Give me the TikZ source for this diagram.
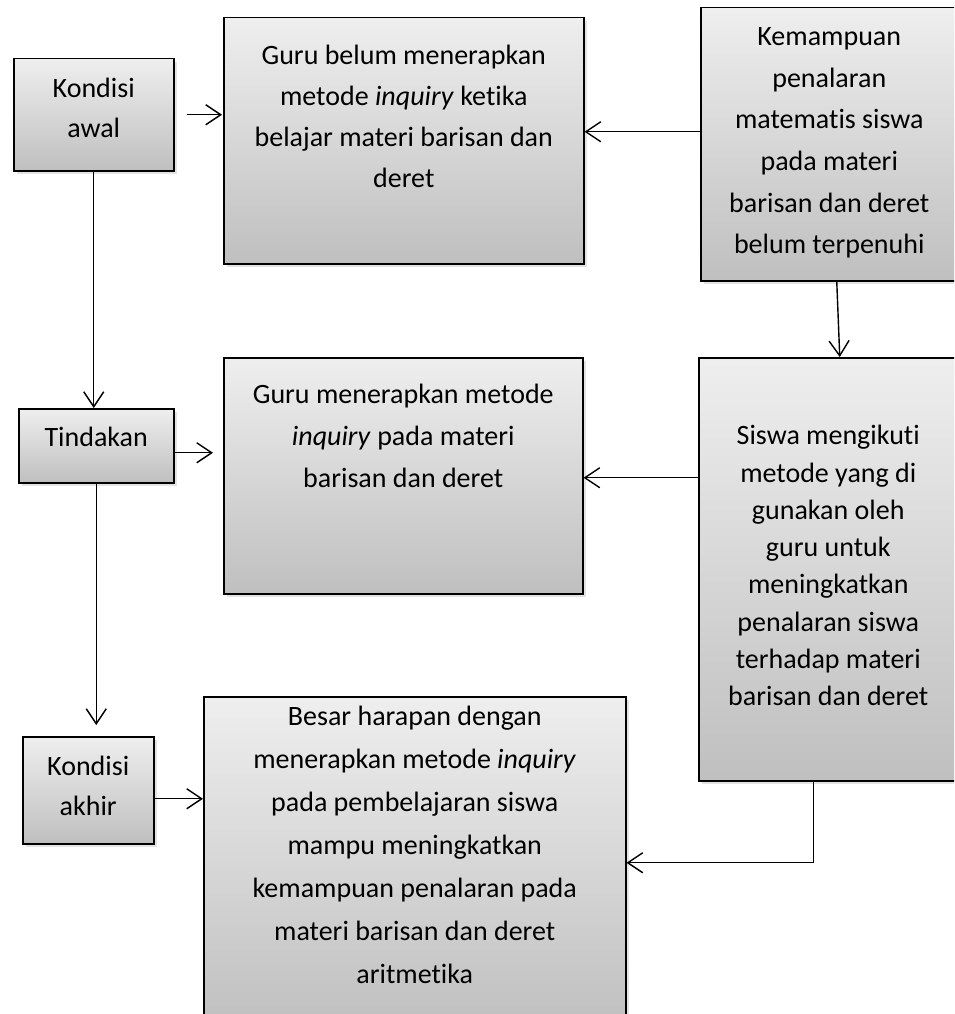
\documentclass[tikz,border=0pt]{standalone}
\usepackage{fontspec}
\setmainfont{Carlito}[Ligatures=NoCommon]
\usetikzlibrary{arrows.meta,shadows}

% isi kotak: lebar, tinggi, jarak ke baris pertama, teks, jarak baris
\newcommand{\isikotak}[5]{\parbox[c][#2pt][t]{#1pt}{\centering\fontsize{28}{#5}\selectfont
  \vspace*{\dimexpr#3pt-28pt\relax}\rule{0pt}{28pt}#4}}

\tikzset{
  kotak/.style={draw, line width=1.5pt, inner sep=0pt, anchor=north west,
    top color=gray!13, bottom color=gray!50,
    drop shadow={shadow xshift=3pt, shadow yshift=-3pt, opacity=0.22}},
  panah/.style={line width=1.4pt, -{Straight Barb[length=15pt,width=20pt,line width=1.4pt]}}
}

\begin{document}
\begin{tikzpicture}[x=1pt,y=-1pt]
        \clip (0,0) rectangle (954,1014);
        \node[kotak] (kawal) at (13,58) {\isikotak{160}{112}{39}{Kondisi\\awal}{40}};
        \node[kotak] (guruA) at (223,17) {\isikotak{360}{246}{47}{Guru belum menerapkan\\metode \textit{inquiry} ketika\\belajar materi barisan dan\\deret}{41}};
        \node[kotak] (kemampuan) at (700,7) {\isikotak{257}{273}{38}{Kemampuan\\penalaran\\matematis siswa\\pada materi\\barisan dan deret\\belum terpenuhi}{41.6}};
        \node[kotak] (tindakan) at (18,408) {\isikotak{155}{74}{38}{Tindakan}{40}};
        \node[kotak] (guruC) at (223,357) {\isikotak{359}{236}{46}{Guru menerapkan metode\\\textit{inquiry} pada materi\\barisan dan deret}{42}};
        \node[kotak] (siswa) at (698,357) {\isikotak{259}{423}{87}{Siswa mengikuti\\metode yang di\\gunakan oleh\\guru untuk\\meningkatkan\\penalaran siswa\\terhadap materi\\barisan dan deret}{37.3}};
        \node[kotak] (kakhir) at (22,736) {\isikotak{131}{107}{39}{Kondisi\\akhir}{40}};
        \node[kotak] (besar) at (203,696) {\isikotak{422}{332}{29}{Besar harapan dengan\\menerapkan metode \textit{inquiry}\\pada pembelajaran siswa\\mampu meningkatkan\\kemampuan penalaran pada\\materi barisan dan deret\\aritmetika}{43}};

        \draw[panah, shorten <=12pt, shorten >=1pt] (kawal.east) -- (kawal.east -| guruA.west);
        \draw[panah] ([yshift=12.5pt]kemampuan.west) -- ([yshift=12.5pt]kemampuan.west -| guruA.east);
        \draw[panah] (kawal.south) -- (kawal.south |- tindakan.north);
        \draw[panah] ([xshift=7.5pt]kemampuan.south) -- ([xshift=11.5pt]siswa.north);
        \draw[panah, shorten >=10pt] ([yshift=-7pt]tindakan.east) -- ([yshift=-7pt]tindakan.east -| guruC.west);
        \draw[panah] ([yshift=91.5pt]siswa.west) -- ([yshift=91.5pt]siswa.west -| guruC.east);
        \draw[panah, shorten >=11pt] (tindakan.south) -- (tindakan.south |- kakhir.north);
        \draw[panah] ([yshift=-8.5pt]kakhir.east) -- ([yshift=-8.5pt]kakhir.east -| besar.west);
        \draw[panah] ([xshift=-14.5pt]siswa.south) |- (besar.east);
\end{tikzpicture}
\end{document}
